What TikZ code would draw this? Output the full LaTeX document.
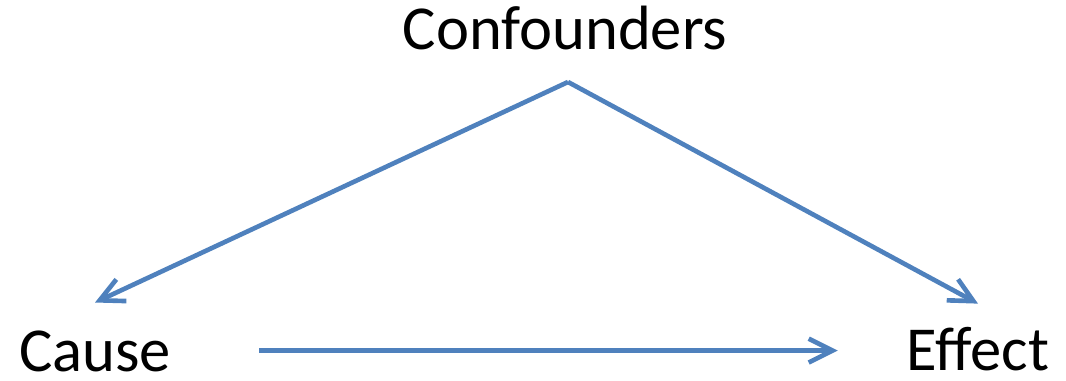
\documentclass[tikz,border=0pt]{standalone}
\usepackage{fontspec}
\setmainfont{Carlito}
\usepackage{xcolor}
\usepackage{tikz}
\usetikzlibrary{arrows.meta, positioning}

\definecolor{linkblue}{HTML}{4F81BD}

\begin{document}
\begin{tikzpicture}[
    x=0.025cm, y=-0.025cm,
    every node/.style={font=\fontsize{44.5}{50}\selectfont},
    lbl/.style={inner sep=0pt, anchor=base, text height=29pt, text depth=0pt},
    arrow/.style={-{Straight Barb[length=17pt, width=17pt, line width=3.3pt]},
                  line width=3.3pt, draw=linkblue}
]
\useasboundingbox (0,0) rectangle (1066,381);

% === Variables ===
\node[lbl] (conf) at (565, 50) {Confounders};
\node[lbl] (cause) at (95, 371) {Cause};
\node[lbl] (effect) at (978, 370) {Effect};

\coordinate (apex) at (568, 82);

% === Causal links ===
\draw[arrow] (apex) -- ([yshift=19.5pt]cause.north);
\draw[arrow] (apex) -- ([yshift=18pt]effect.north);
\draw[arrow, shorten <=62.6pt, shorten >=49pt] (cause.east) -- (effect.west |- cause.east);

\end{tikzpicture}
\end{document}
